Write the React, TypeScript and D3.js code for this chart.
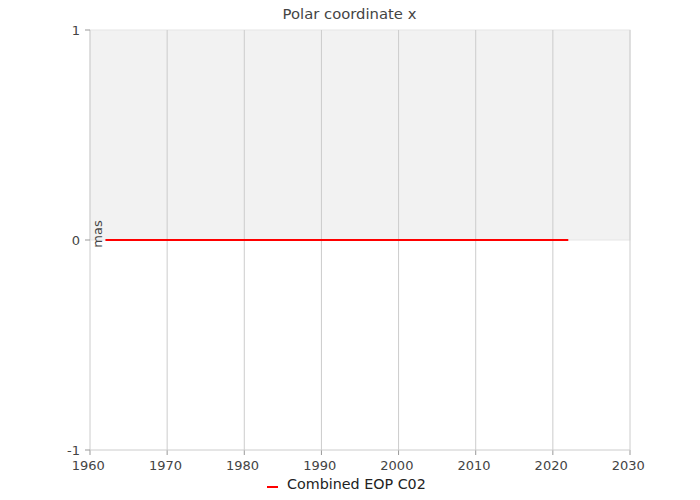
import React from "react";
import * as d3 from "d3";

const years = [1962, 2022];
const values = [0, 0];
const xTicks = [1960, 1970, 1980, 1990, 2000, 2010, 2020, 2030];
const yTicks = [-1, 0, 1];
const bandRange = [0, 1];
const title = "Polar coordinate x";
const yLabel = "mas";
const seriesName = "Combined EOP C02";

export default function App() {
  const W = 700, H = 500;
  const m = { l: 90, r: 70, t: 30, b: 50 };
  const x = d3.scaleLinear().domain([1960, 2030]).range([m.l, W - m.r]);
  const y = d3.scaleLinear().domain([-1, 1]).range([H - m.b, m.t]);
  const line = d3.line<[number, number]>().x(d => x(d[0])).y(d => y(d[1]));
  const pts: [number, number][] = years.map((yr, i) => [yr, values[i]]);
  const font = "'DejaVu Sans', Verdana, sans-serif";
  return (
    <svg width={W} height={H} style={{ position: "absolute", left: 0, top: 0 }} fontFamily={font}>
      <rect x={0} y={0} width={W} height={H} fill="#fff" />
      <rect x={x(1960)} y={y(bandRange[1])} width={x(2030) - x(1960)} height={y(bandRange[0]) - y(bandRange[1])} fill="#f2f2f2" stroke="#e6e6e6" />
      {xTicks.map(t => (
        <g key={t}>
          <line x1={x(t)} x2={x(t)} y1={y(1)} y2={y(-1)} stroke="#cccccc" />
          <line x1={x(t)} x2={x(t)} y1={y(-1)} y2={y(-1) + 5} stroke="#999" />
          <text x={x(t) - 1.7} y={y(-1) + 20} textAnchor="middle" fontSize={13} fill="#444">{t}</text>
        </g>
      ))}
      <line x1={x(1960)} x2={x(2030)} y1={y(-1)} y2={y(-1)} stroke="#cccccc" />
      {yTicks.map(t => (
        <g key={t}>
          <line x1={x(1960) - 5} x2={x(1960)} y1={y(t)} y2={y(t)} stroke="#999" />
          <text x={x(1960) - 10} y={y(t) + 5} textAnchor="end" fontSize={13} fill="#444">{t}</text>
        </g>
      ))}
      <path d={line(pts) || ""} fill="none" stroke="#ff0000" strokeWidth={2} />
      <text transform={`translate(${x(1960) + 12},${y(0) - 6}) rotate(-90)`} textAnchor="middle" fontSize={13} fill="#444">{yLabel}</text>
      <text x={349.5} y={18.5} textAnchor="middle" fontSize={14.8} fill="#444">{title}</text>
      <line x1={267} x2={278} y1={487} y2={487} stroke="#ff0000" strokeWidth={2} />
      <text x={287} y={489} fontSize={14.3} fill="#222">{seriesName}</text>
    </svg>
  );
}
